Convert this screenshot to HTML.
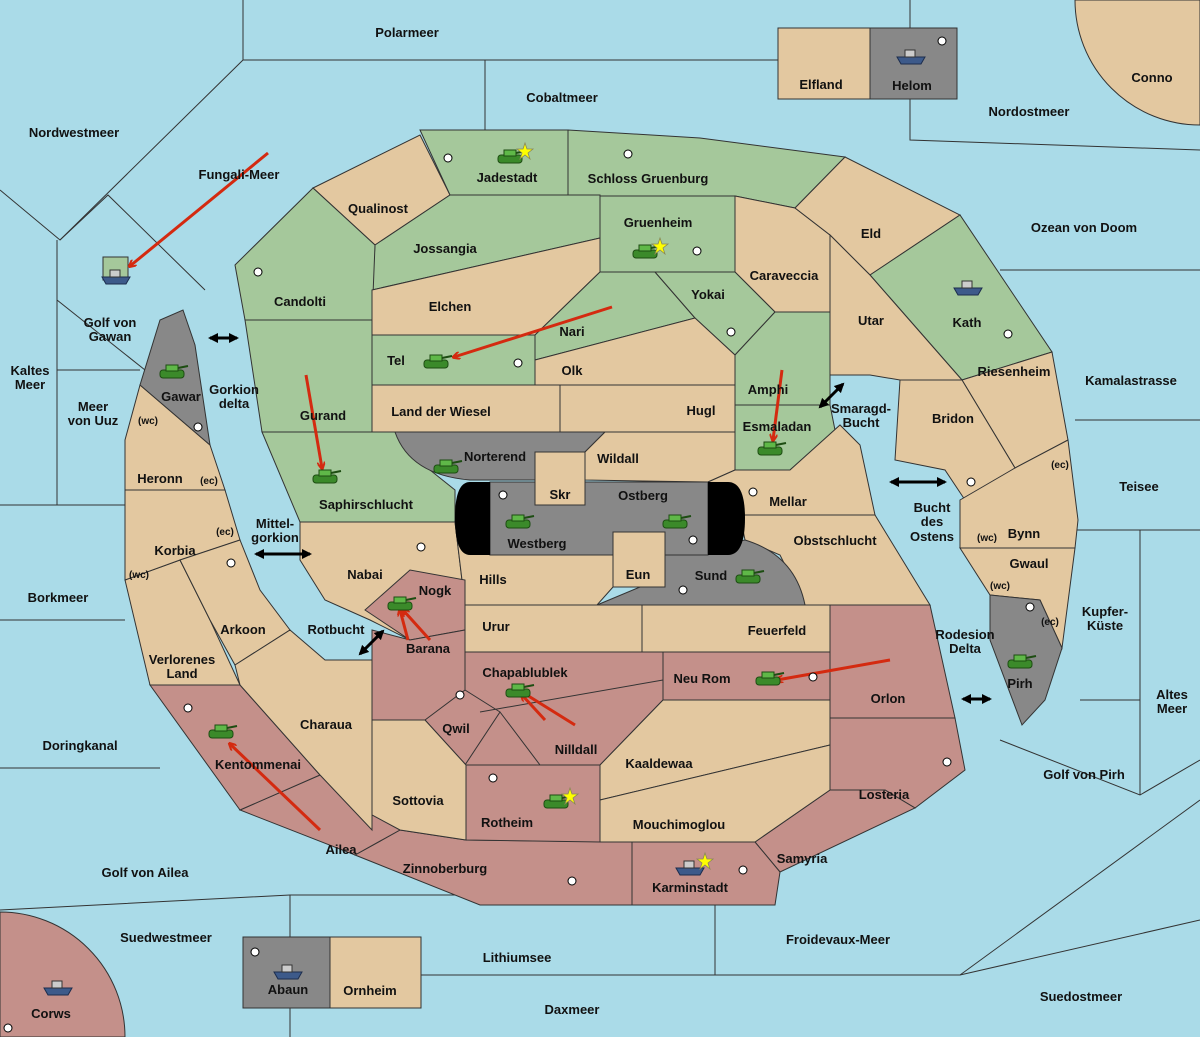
<!DOCTYPE html>
<html><head><meta charset="utf-8"><style>
html,body{margin:0;padding:0;background:#aadbe8}
svg{display:block}
text{font-family:"Liberation Sans",sans-serif;font-size:13px;font-weight:bold;fill:#111;text-anchor:middle}
.s{font-size:10px}
.t{fill:#e3c8a0;stroke:#333;stroke-width:1}
.g{fill:#a5c89b;stroke:#333;stroke-width:1}
.r{fill:#c4908a;stroke:#333;stroke-width:1}
.k{fill:#888;stroke:#333;stroke-width:1}
.l{stroke:#333;stroke-width:1;fill:none}
.a{stroke:#d42a10;stroke-width:3;fill:none}
</style></head><body>
<svg width="1200" height="1037" viewBox="0 0 1200 1037" xmlns="http://www.w3.org/2000/svg">
<defs>
<marker id="ah" markerWidth="8" markerHeight="8" refX="6" refY="4" orient="auto" markerUnits="userSpaceOnUse"><path d="M0,0 L8,4 L0,8" fill="none" stroke="#d42a10" stroke-width="2"/></marker>
<marker id="bk" markerWidth="10" markerHeight="10" refX="8" refY="5" orient="auto" markerUnits="userSpaceOnUse"><path d="M0,0 L10,5 L0,10z" fill="#000"/></marker>
<marker id="bks" markerWidth="10" markerHeight="10" refX="2" refY="5" orient="auto" markerUnits="userSpaceOnUse"><path d="M10,0 L0,5 L10,10z" fill="#000"/></marker>
<g id="tank"><rect x="-12" y="-3" width="24" height="8" rx="3" fill="#3b8a2a" stroke="#1d4d12"/><rect x="-6" y="-8" width="12" height="6" fill="#5fb848" stroke="#1d4d12"/><line x1="6" y1="-5" x2="16" y2="-7" stroke="#1d4d12" stroke-width="2"/></g>
<g id="ship"><path d="M-14,0 L14,0 L10,7 L-10,7z" fill="#3d5a8a" stroke="#1d2d4d"/><rect x="-6" y="-7" width="10" height="7" fill="#ccc" stroke="#333"/></g>
</defs>
<rect width="1200" height="1037" fill="#aadbe8"/>
<g class="l">
<path d="M243,0 L243,60 L485,60 L485,130"/>
<path d="M485,60 L778,60"/>
<path d="M910,0 L910,140 L1200,150"/>
<path d="M243,60 L60,240 L0,190"/>
<path d="M60,240 L108,195 L205,290"/>
<path d="M57,240 L57,505"/>
<path d="M57,300 L145,370"/>
<path d="M57,370 L140,370"/>
<path d="M0,505 L125,505"/>
<path d="M0,620 L125,620"/>
<path d="M0,768 L160,768"/>
<path d="M0,910 L290,895 L715,895"/>
<path d="M290,895 L290,1037"/>
<path d="M421,975 L715,975 L715,870"/>
<path d="M715,975 L960,975 L1200,920"/>
<path d="M960,975 L1200,800"/>
<path d="M1000,740 L1140,795 L1200,760"/>
<path d="M1140,530 L1140,795"/>
<path d="M1075,530 L1200,530"/>
<path d="M1075,420 L1200,420"/>
<path d="M1000,270 L1200,270"/>
<path d="M1080,700 L1140,700"/>
</g>
<path d="M1075,0 A125,125 0 0 0 1200,125 L1200,0z" class="t" transform="rotate(0)"/>
<path d="M0,912 A125,125 0 0 1 125,1037 L0,1037z" class="r"/>
<rect x="778" y="28" width="92" height="71" class="t"/>
<rect x="870" y="28" width="87" height="71" class="k"/>
<rect x="243" y="937" width="87" height="71" class="k"/>
<rect x="330" y="937" width="91" height="71" class="t"/>
<rect x="103" y="257" width="25" height="23" class="g"/>
<polygon class="t" points="313,188 420,135 450,195 375,245"/>
<polygon class="g" points="420,130 568,130 568,195 450,195"/>
<polygon class="g" points="568,130 700,138 845,157 795,208 735,196 600,196 568,195"/>
<polygon class="g" points="375,245 450,195 600,195 600,238 372,290"/>
<polygon class="g" points="235,265 313,188 375,245 372,320 245,320"/>
<polygon class="t" points="372,290 600,238 600,272 535,335 372,335"/>
<polygon class="g" points="600,196 735,196 735,272 600,272"/>
<polygon class="t" points="735,196 795,208 830,235 830,312 775,312 735,272"/>
<polygon class="t" points="795,208 845,157 960,215 870,275 830,235"/>
<polygon class="g" points="870,275 960,215 1052,352 962,380"/>
<polygon class="t" points="830,235 870,275 962,380 900,380 870,375 830,375"/>
<polygon class="t" points="962,380 1052,352 1068,440 1015,468"/>
<polygon class="t" points="900,380 962,380 1015,468 965,500 945,470 895,460"/>
<polygon class="t" points="960,500 1015,468 1068,440 1078,520 1075,548 960,548"/>
<polygon class="t" points="960,548 1075,548 1062,648 1040,600 990,595"/>
<polygon class="k" points="990,595 1040,600 1062,648 1045,700 1022,725 990,640"/>
<polygon class="r" points="830,605 930,605 955,718 830,718"/>
<polygon class="r" points="830,718 955,718 965,770 915,808 885,790 830,790"/>
<polygon class="r" points="755,842 830,790 885,790 915,808 780,872"/>
<polygon class="r" points="632,842 755,842 780,872 775,905 632,905"/>
<polygon class="r" points="355,855 400,830 466,840 632,842 632,905 480,905"/>
<polygon class="r" points="240,810 320,775 400,830 355,855"/>
<polygon class="r" points="150,685 240,685 320,775 240,810"/>
<polygon class="t" points="125,580 180,560 210,620 240,685 150,685"/>
<polygon class="t" points="125,490 225,490 240,540 180,560 125,580"/>
<polygon class="t" points="140,385 210,445 225,490 125,490 125,440"/>
<polygon class="k" points="140,385 160,320 183,310 195,345 210,445"/>
<polygon class="t" points="180,560 240,540 260,590 290,630 235,665 210,620"/>
<polygon class="t" points="235,665 290,630 325,660 372,660 372,830 320,775 240,685"/>
<polygon class="g" points="372,335 535,335 535,385 372,385"/>
<polygon class="g" points="535,360 535,335 600,272 655,272 695,318"/>
<polygon class="g" points="655,272 735,272 775,312 735,355 695,318"/>
<polygon class="t" points="535,360 695,318 735,355 735,385 535,385"/>
<polygon class="g" points="735,355 775,312 830,312 830,405 735,405"/>
<polygon class="g" points="735,405 830,405 835,430 790,470 735,470"/>
<polygon class="g" points="245,320 372,320 372,432 262,432"/>
<polygon class="t" points="372,385 560,385 560,432 372,432"/>
<polygon class="t" points="560,385 735,385 735,432 560,432"/>
<polygon class="g" points="262,432 395,432 430,470 455,490 455,522 300,522"/>
<path class="k" d="M395,432 L605,432 L585,452 L535,452 L535,480 L470,480 Q410,475 395,432z"/>
<polygon class="t" points="605,432 735,432 735,470 708,482 585,480 585,452"/>
<rect class="t" x="535" y="452" width="50" height="53"/>
<polygon class="t" points="708,482 735,470 790,470 840,425 860,445 875,515 740,515"/>
<polygon class="t" points="740,515 875,515 930,605 805,605 780,555 745,540"/>
<polygon class="t" points="300,522 455,522 465,605 465,630 410,640 370,620 325,600 300,560"/>
<polygon class="t" points="455,522 490,555 613,555 613,587 597,605 465,605"/>
<path class="k" d="M597,605 L640,587 L665,587 L665,555 L745,540 Q795,555 805,605z"/>
<rect class="k" x="490" y="482" width="218" height="73"/>
<rect class="t" x="535" y="452" width="50" height="53"/>
<rect class="t" x="613" y="532" width="52" height="55"/>
<path d="M490,482 L470,482 Q455,482 455,518 Q455,555 470,555 L490,555z" fill="#000"/>
<path d="M708,482 L728,482 Q745,482 745,518 Q745,555 728,555 L708,555z" fill="#000"/>
<polygon class="r" points="365,610 410,570 465,580 465,630 410,640"/>
<polygon class="r" points="372,630 410,640 465,630 465,652 663,652 663,700 600,765 466,765 425,720 372,720"/>
<path class="l" d="M465,652 L465,690 L425,720 M465,690 L500,712 L465,765 M480,712 L663,680 M500,712 L540,765"/>
<rect class="t" x="465" y="605" width="177" height="47"/>
<rect class="t" x="642" y="605" width="188" height="47"/>
<rect class="r" x="663" y="652" width="167" height="48"/>
<polygon class="t" points="663,700 830,700 830,745 600,800 600,765"/>
<polygon class="t" points="600,800 830,745 830,790 755,842 600,842"/>
<polygon class="r" points="466,765 600,765 600,842 466,840"/>
<polygon class="t" points="372,720 425,720 466,765 466,840 400,830 372,815"/>
<g stroke="#000" stroke-width="3" marker-end="url(#bk)" marker-start="url(#bks)">
<line x1="210" y1="338" x2="237" y2="338"/>
<line x1="256" y1="554" x2="310" y2="554"/>
<line x1="360" y1="654" x2="383" y2="631"/>
<line x1="820" y1="407" x2="843" y2="384"/>
<line x1="891" y1="482" x2="945" y2="482"/>
<line x1="963" y1="699" x2="990" y2="699"/>
</g>
<g class="a" marker-end="url(#ah)">
<line x1="268" y1="153" x2="130" y2="266"/>
<line x1="612" y1="307" x2="454" y2="357"/>
<line x1="306" y1="375" x2="322" y2="468"/>
<line x1="782" y1="370" x2="773" y2="440"/>
<line x1="890" y1="660" x2="777" y2="680"/>
<line x1="320" y1="830" x2="230" y2="744"/>
<line x1="430" y1="640" x2="403" y2="610"/>
<line x1="408" y1="640" x2="400" y2="610"/>
<line x1="575" y1="725" x2="522" y2="692"/>
<line x1="545" y1="720" x2="522" y2="695"/>
</g>
<use href="#tank" x="510" y="158"/><use href="#tank" x="645" y="253"/>
<use href="#ship" x="968" y="288"/><use href="#tank" x="172" y="373"/>
<use href="#tank" x="436" y="363"/><use href="#tank" x="325" y="478"/>
<use href="#tank" x="770" y="450"/><use href="#tank" x="446" y="468"/>
<use href="#tank" x="518" y="523"/><use href="#tank" x="675" y="523"/>
<use href="#tank" x="748" y="578"/><use href="#tank" x="400" y="605"/>
<use href="#tank" x="518" y="692"/><use href="#tank" x="768" y="680"/>
<use href="#tank" x="556" y="803"/><use href="#tank" x="221" y="733"/>
<use href="#tank" x="1020" y="663"/><use href="#ship" x="690" y="868"/>
<use href="#ship" x="911" y="57"/><use href="#ship" x="116" y="277"/>
<use href="#ship" x="288" y="972"/><use href="#ship" x="58" y="988"/>
<g fill="#ff0" stroke="#885" stroke-width="0.8">
<polygon points="525,143 527,149 533,149 528,153 530,159 525,155 520,159 522,153 517,149 523,149"/>
<polygon points="660,238 662,244 668,244 663,248 665,254 660,250 655,254 657,248 652,244 658,244"/>
<polygon points="570,788 572,794 578,794 573,798 575,804 570,800 565,804 567,798 562,794 568,794"/>
<polygon points="705,853 707,859 713,859 708,863 710,869 705,865 700,869 702,863 697,859 703,859"/>
</g>
<g fill="#fff" stroke="#000" stroke-width="1">
<circle cx="448" cy="158" r="4"/><circle cx="628" cy="154" r="4"/><circle cx="697" cy="251" r="4"/><circle cx="258" cy="272" r="4"/>
<circle cx="518" cy="363" r="4"/><circle cx="731" cy="332" r="4"/><circle cx="1008" cy="334" r="4"/><circle cx="198" cy="427" r="4"/>
<circle cx="503" cy="495" r="4"/><circle cx="753" cy="492" r="4"/><circle cx="971" cy="482" r="4"/><circle cx="421" cy="547" r="4"/>
<circle cx="231" cy="563" r="4"/><circle cx="683" cy="590" r="4"/><circle cx="1030" cy="607" r="4"/><circle cx="813" cy="677" r="4"/>
<circle cx="460" cy="695" r="4"/><circle cx="188" cy="708" r="4"/><circle cx="493" cy="778" r="4"/><circle cx="947" cy="762" r="4"/>
<circle cx="572" cy="881" r="4"/><circle cx="743" cy="870" r="4"/><circle cx="942" cy="41" r="4"/><circle cx="255" cy="952" r="4"/>
<circle cx="8" cy="1028" r="4"/><circle cx="693" cy="540" r="4"/>
</g>
<text x="407" y="37">Polarmeer</text><text x="562" y="102">Cobaltmeer</text>
<text x="821" y="89">Elfland</text><text x="912" y="90">Helom</text><text x="1152" y="82">Conno</text>
<text x="1029" y="116">Nordostmeer</text><text x="74" y="137">Nordwestmeer</text>
<text x="239" y="179">Fungali-Meer</text><text x="507" y="182">Jadestadt</text><text x="648" y="183">Schloss Gruenburg</text>
<text x="378" y="213">Qualinost</text><text x="658" y="227">Gruenheim</text><text x="871" y="238">Eld</text>
<text x="1084" y="232">Ozean von Doom</text><text x="445" y="253">Jossangia</text><text x="784" y="280">Caraveccia</text>
<text x="708" y="299">Yokai</text><text x="300" y="306">Candolti</text><text x="450" y="311">Elchen</text>
<text x="110" y="327">Golf von</text><text x="110" y="341">Gawan</text><text x="871" y="325">Utar</text>
<text x="967" y="327">Kath</text><text x="572" y="336">Nari</text><text x="396" y="365">Tel</text>
<text x="30" y="375">Kaltes</text><text x="30" y="389">Meer</text><text x="572" y="375">Olk</text>
<text x="1014" y="376">Riesenheim</text><text x="1131" y="385">Kamalastrasse</text><text x="768" y="394">Amphi</text>
<text x="234" y="394">Gorkion</text><text x="234" y="408">delta</text><text x="181" y="401">Gawar</text>
<text x="93" y="411">Meer</text><text x="93" y="425">von Uuz</text><text x="148" y="424" class="s">(wc)</text>
<text x="441" y="416">Land der Wiesel</text><text x="701" y="415">Hugl</text><text x="861" y="413">Smaragd-</text><text x="861" y="427">Bucht</text>
<text x="323" y="420">Gurand</text><text x="953" y="423">Bridon</text><text x="777" y="431">Esmaladan</text>
<text x="495" y="461">Norterend</text><text x="618" y="463">Wildall</text><text x="1060" y="468" class="s">(ec)</text>
<text x="160" y="483">Heronn</text><text x="209" y="484" class="s">(ec)</text><text x="1139" y="491">Teisee</text>
<text x="560" y="499">Skr</text><text x="643" y="500">Ostberg</text><text x="788" y="506">Mellar</text>
<text x="366" y="509">Saphirschlucht</text><text x="932" y="512">Bucht</text><text x="932" y="526">des</text><text x="932" y="541">Ostens</text>
<text x="275" y="528">Mittel-</text><text x="275" y="542">gorkion</text><text x="225" y="535" class="s">(ec)</text>
<text x="987" y="541" class="s">(wc)</text><text x="1024" y="538">Bynn</text><text x="537" y="548">Westberg</text>
<text x="835" y="545">Obstschlucht</text><text x="175" y="555">Korbia</text><text x="1029" y="568">Gwaul</text>
<text x="139" y="578" class="s">(wc)</text><text x="365" y="579">Nabai</text><text x="493" y="584">Hills</text>
<text x="638" y="579">Eun</text><text x="711" y="580">Sund</text><text x="1000" y="589" class="s">(wc)</text>
<text x="435" y="595">Nogk</text><text x="58" y="602">Borkmeer</text><text x="1105" y="616">Kupfer-</text><text x="1105" y="630">Küste</text>
<text x="1050" y="625" class="s">(ec)</text><text x="496" y="631">Urur</text><text x="777" y="635">Feuerfeld</text>
<text x="243" y="634">Arkoon</text><text x="336" y="634">Rotbucht</text><text x="965" y="639">Rodesion</text><text x="965" y="653">Delta</text>
<text x="428" y="653">Barana</text><text x="182" y="664">Verlorenes</text><text x="182" y="678">Land</text>
<text x="525" y="677">Chapablublek</text><text x="702" y="683">Neu Rom</text><text x="1020" y="688">Pirh</text>
<text x="888" y="703">Orlon</text><text x="1172" y="699">Altes</text><text x="1172" y="713">Meer</text>
<text x="326" y="729">Charaua</text><text x="456" y="733">Qwil</text><text x="80" y="750">Doringkanal</text>
<text x="576" y="754">Nilldall</text><text x="659" y="768">Kaaldewaa</text><text x="258" y="769">Kentommenai</text>
<text x="1084" y="779">Golf von Pirh</text><text x="884" y="799">Losteria</text><text x="418" y="805">Sottovia</text>
<text x="507" y="827">Rotheim</text><text x="679" y="829">Mouchimoglou</text><text x="341" y="854">Ailea</text>
<text x="802" y="863">Samyria</text><text x="445" y="873">Zinnoberburg</text><text x="145" y="877">Golf von Ailea</text>
<text x="690" y="892">Karminstadt</text><text x="166" y="942">Suedwestmeer</text><text x="838" y="944">Froidevaux-Meer</text>
<text x="517" y="962">Lithiumsee</text><text x="288" y="994">Abaun</text><text x="370" y="995">Ornheim</text>
<text x="1081" y="1001">Suedostmeer</text><text x="572" y="1014">Daxmeer</text><text x="51" y="1018">Corws</text>
</svg>
</body></html>
